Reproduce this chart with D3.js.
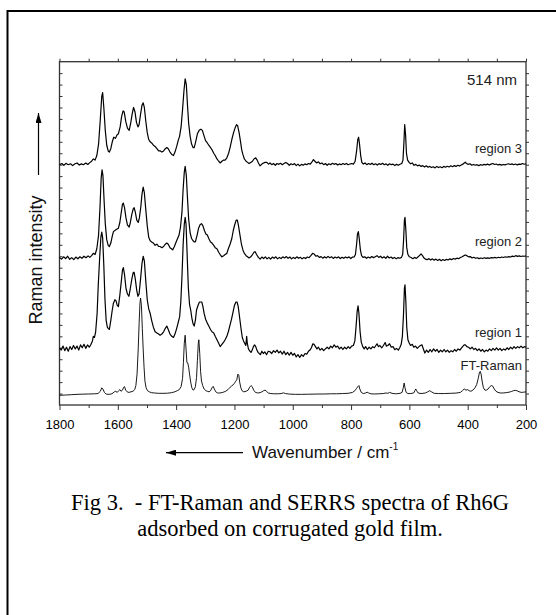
<!DOCTYPE html>
<html>
<head>
<meta charset="utf-8">
<script src="https://cdn.jsdelivr.net/npm/d3@7"></script>
<style>
  body { margin: 0; background: #fff; }
  svg { display: block; }
</style>
</head>
<body>
<svg width="556" height="615"></svg>
<script>
// x ticks (cm-1)
var majorTicks = [1800, 1600, 1400, 1200, 1000, 800, 600, 400, 200];
var minorTicks = [1700, 1500, 1300, 1100, 900, 700, 500, 300];

// names and vertical offsets (arbitrary intensity units) of the stacked spectra
var names = ["FT-Raman", "region 1", "region 2", "region 3"];
var offsets = [9, 50, 128.5, 210];

// [wavenumber, intensity above own baseline]
var ftRaman = [
[1800,-0.5],[1780,-0.3],[1760,0],[1740,0.3],[1720,0.5],[1700,0.6],[1680,0.8],[1668,1],[1660,3],[1655,6],[1651,5],[1646,2],[1640,0.5],[1630,0.3],[1620,0.8],[1612,2.5],[1607,3],[1602,2],[1597,3.5],[1593,4.5],[1589,3],[1584,4],[1580,6.5],[1577,7],[1573,4],[1568,2.5],[1562,2],[1555,2.5],[1548,3],[1542,4.5],[1538,8],[1534,18],[1530,40],[1527,62],[1524,80],[1522,84.5],[1519,78],[1516,58],[1513,40],[1510,24],[1507,12],[1503,6],[1498,3.5],[1492,2.5],[1485,1.8],[1475,1.5],[1460,1.2],[1445,1.2],[1430,1.3],[1415,1.8],[1405,2.5],[1396,3.5],[1389,4.5],[1383,7],[1378,14],[1375,28],[1372,45],[1369,52],[1366,40],[1363,28],[1360,27.7],[1357,24],[1354,18],[1350,11],[1346,6],[1342,4],[1338,4.5],[1334,7],[1330,15],[1327,30],[1324,45],[1322,48],[1319,36],[1316,20],[1313,12],[1309,8],[1304,5],[1298,3.5],[1293,3],[1287,2.5],[1282,3.5],[1277,6],[1273,7.3],[1269,5],[1264,2.5],[1258,1.5],[1250,1.5],[1240,2],[1230,3],[1222,4.5],[1215,6.5],[1210,7.5],[1205,8.5],[1200,10],[1196,11.6],[1192,13],[1188,18],[1185,17],[1182,11],[1178,6],[1174,3.5],[1168,2.5],[1160,3],[1153,4],[1148,6.5],[1143,8],[1139,7],[1134,4],[1128,2],[1120,1.5],[1112,1.8],[1106,2.5],[1100,3.5],[1095,4],[1090,3],[1084,1.5],[1075,1],[1065,0.8],[1050,0.8],[1040,1],[1032,1.6],[1025,1],[1010,0.5],[990,0.3],[970,0.3],[950,0.4],[930,0.5],[910,0.6],[890,0.6],[870,0.8],[850,0.8],[830,1],[810,1.2],[795,2],[787,3.5],[781,5.5],[777,7],[773,8],[770,5],[765,2],[758,1],[750,1.5],[745,2.2],[740,1.5],[732,0.8],[720,0.6],[705,0.8],[690,1],[680,1.5],[674,1.2],[668,2],[663,1.5],[656,1],[645,0.8],[632,1.2],[625,2],[621,6],[618,10.2],[615,6],[611,2],[605,1],[595,1],[585,1.5],[581,3.5],[578,5],[575,3.5],[570,1.5],[560,1],[545,1.5],[537,2.5],[530,3.5],[524,2.5],[515,1.2],[500,1],[480,1],[460,1.2],[440,1.4],[425,2],[418,3.5],[412,5],[406,4],[400,4.4],[395,3.5],[389,3],[382,4],[375,6],[369,9],[364,14],[360,19],[357,20.4],[354,18],[350,11],[346,6],[341,4],[336,4],[330,5],[324,7],[319,8],[314,7.5],[309,5],[303,3],[296,2],[288,1.5],[278,1.5],[268,1.8],[258,2.2],[250,2.8],[243,3.5],[237,3.8],[231,3.5],[224,2.6],[216,2],[208,2.2],[200,2.5]
];

var region1 = [
[1800,0],[1794,-2],[1788,1.5],[1782,-2.5],[1776,0.5],[1770,-3],[1764,1],[1758,-1.5],[1752,2],[1746,-1],[1740,1.5],[1734,-2],[1728,2.5],[1722,0],[1716,3],[1710,-0.5],[1704,2.5],[1698,0.5],[1692,3],[1687,6],[1684,10],[1680,9],[1676,14],[1671,30],[1667,55],[1662,80],[1658,97],[1655,101],[1652,96],[1648,72],[1644,42],[1640,24],[1636,18],[1633,17],[1629,16],[1624,24],[1619,33],[1615,39],[1610,42],[1606,41],[1602,37],[1598,36],[1593,46],[1588,58],[1584,68],[1581,70],[1577,64],[1572,52],[1567,47],[1562,45],[1557,52],[1552,60],[1547,66],[1544,66],[1540,60],[1535,50],[1531,45],[1527,47],[1522,60],[1517,74],[1513,80],[1509,76],[1504,58],[1499,42],[1494,34],[1489,30],[1484,24],[1478,18],[1472,14],[1466,13],[1460,12],[1455,11],[1449,12],[1443,14],[1437,17],[1432,19],[1427,16],[1421,12],[1415,10],[1409,9],[1404,12],[1398,17],[1393,22],[1388,27],[1384,40],[1380,62],[1376,90],[1372,108],[1369,114],[1366,108],[1362,80],[1358,52],[1354,38],[1350,33],[1346,26],[1342,21],[1338,19],[1334,24],[1330,33],[1325,37],[1320,40],[1316,40],[1312,40],[1308,36],[1304,30],[1299,25],[1294,22],[1288,19],[1282,16],[1277,14],[1271,13],[1266,10],[1260,7],[1254,4],[1249,1],[1243,3],[1237,5],[1232,7],[1226,10],[1221,14],[1215,20],[1210,25],[1205,31],[1200,37],[1195,40],[1191,40],[1187,36],[1182,26],[1177,16],[1173,9],[1169,6],[1165,4],[1161,2],[1158,10],[1156,4],[1152,-1],[1147,-3],[1143,-4],[1139,-2],[1135,1],[1131,2.5],[1127,1],[1123,-2],[1119,-4],[1115,-5],[1111,-6],[1106,-3],[1101,-5],[1096,-3.5],[1090,-6],[1084,-3],[1078,-3.5],[1072,-5],[1066,-2.5],[1060,-4],[1054,-2],[1048,-4.5],[1042,-3],[1036,-5.5],[1030,-3],[1024,-6],[1018,-4],[1012,-6.5],[1006,-4],[1000,-6.5],[994,-5],[988,-8],[982,-6],[976,-8.5],[970,-6],[964,-7.5],[958,-5],[952,-5.5],[946,-3],[941,-2],[936,0],[931,3.5],[927,3],[922,1],[917,-1],[912,0.5],[906,-2],[900,-0.5],[894,-2.5],[888,-1],[882,0.5],[876,-1],[870,1.5],[864,0],[858,2.5],[852,0.5],[846,1.5],[840,-1],[834,0.5],[828,-1.5],[822,0.5],[816,-1],[810,1],[804,-0.5],[798,1.5],[792,2],[787,6],[783,18],[779,32],[776,36.7],[773,30],[769,14],[765,5],[760,1],[755,-1],[750,1],[744,-1.5],[738,0.5],[732,-1],[726,1],[720,0],[715,2],[711,3.5],[706,1],[701,2],[695,0],[689,2],[683,4.6],[679,1.5],[674,2],[668,3.5],[662,0.5],[656,1],[650,-1.7],[644,-0.5],[638,-2],[633,0],[628,3],[624,10],[620,30],[617,52],[615,55],[612,40],[609,18],[605,7],[601,4.4],[596,2],[590,3],[585,0.5],[579,1.5],[573,-0.5],[567,1],[562,2],[557,2.6],[552,-1],[547,-4.6],[541,-2],[535,-4],[529,-1.5],[523,-3.5],[517,-1],[511,-3],[505,-1.5],[499,-4],[493,-2],[487,-3.5],[481,-1.5],[475,-3.5],[469,-2],[463,-4],[457,-2.5],[451,-3.5],[445,-1.5],[439,-3],[433,-1],[427,-2],[421,0],[416,1.5],[412,2.5],[408,2.6],[403,1],[397,0.5],[391,-1],[385,0.5],[379,-1.5],[373,-0.5],[367,-2.5],[361,-1],[355,-3],[349,-1.5],[343,-3.5],[337,-2],[331,-3],[325,-1],[319,-2.5],[313,-0.5],[307,-2],[301,0],[295,-2],[289,-0.5],[283,-2.5],[277,-1],[271,-2],[265,0],[259,-1.5],[253,0.5],[247,-1],[241,1],[235,-0.5],[229,1],[223,0],[217,1.5],[211,0],[205,1],[200,0.5]
];

var region2 = [
[1800,0.5],[1793,-1],[1786,1],[1779,-0.5],[1772,1.5],[1765,-1.2],[1758,0.3],[1751,-1.5],[1744,0.8],[1737,-0.7],[1730,1],[1723,-0.3],[1716,1.5],[1709,0.2],[1702,1.8],[1696,0.5],[1690,2],[1684,4],[1678,3],[1672,8],[1666,20],[1661,45],[1657,70],[1654,77],[1651,72],[1647,50],[1643,30],[1638,16],[1633,11],[1629,10],[1624,13],[1619,19],[1615,23],[1610,24],[1604,25],[1598,26],[1593,31],[1588,40],[1584,47],[1581,48],[1577,44],[1572,35],[1567,29],[1561,27],[1557,31],[1552,38],[1547,43],[1544,44],[1540,40],[1535,33],[1530,31],[1526,35],[1521,45],[1517,56],[1513,62],[1509,57],[1504,42],[1499,28],[1494,18],[1489,15],[1484,14],[1478,13],[1472,11],[1466,12],[1460,10],[1455,10],[1449,9],[1443,10],[1437,12],[1432,13],[1427,12],[1421,9],[1416,8],[1412,7],[1406,10],[1400,14],[1395,17],[1390,20],[1385,27],[1380,40],[1376,60],[1372,75],[1369,80],[1365,72],[1361,52],[1357,34],[1352,22],[1347,17],[1342,15],[1338,14],[1334,14],[1328,20],[1323,26],[1318,29],[1313,30],[1308,28],[1303,24],[1298,21],[1293,20],[1288,17],[1282,14],[1277,13],[1271,11],[1266,9],[1260,8],[1254,5],[1249,3],[1243,1],[1237,2],[1232,3],[1226,4],[1221,8],[1215,12],[1209,17],[1204,24],[1199,29],[1194,33],[1190,33],[1186,28],[1181,20],[1176,12],[1171,7],[1166,4],[1160,2],[1155,1],[1150,0],[1144,1],[1138,3],[1133,5],[1129,5.5],[1124,3],[1118,0.5],[1112,-1],[1106,0.8],[1100,-0.5],[1094,1],[1088,-0.8],[1082,0.5],[1076,-1],[1070,0.8],[1064,-0.3],[1058,1],[1052,-0.8],[1046,0.5],[1040,-0.5],[1034,1],[1028,0],[1022,1.2],[1016,-0.3],[1010,0.8],[1004,-0.8],[998,0.5],[992,-0.5],[986,1],[980,-0.3],[974,0.6],[968,-0.8],[962,0.4],[956,-0.5],[950,0.8],[944,0.2],[938,2],[932,4],[927,3.5],[921,1.5],[915,2],[909,0.5],[903,1.2],[897,-0.2],[891,1],[885,0],[879,1.4],[873,0.2],[867,1],[861,-0.4],[855,0.8],[849,0],[843,1],[837,-0.5],[831,0.6],[825,-0.3],[819,0.9],[813,0],[807,1],[801,-0.5],[795,0.8],[789,1],[785,3],[781,12],[778,21],[775,23],[772,17],[768,7],[764,2],[759,0.5],[753,1],[747,-0.3],[741,0.8],[735,0],[729,1.2],[723,0.3],[717,1],[711,2],[705,0.5],[699,1.5],[693,0],[687,1],[681,-0.3],[675,1.5],[669,0],[663,0.8],[657,-0.5],[651,0.5],[645,-0.8],[639,0.3],[633,-0.3],[627,0.5],[623,3],[620,15],[617,33],[615,35.5],[612,24],[609,9],[605,3],[600,1],[594,0.4],[588,-0.6],[582,0.5],[576,-0.4],[570,1],[564,2.5],[560,3.5],[555,2],[550,0],[545,-1],[539,-1.5],[533,-0.6],[527,-1.8],[521,-0.8],[515,-2],[509,-1],[503,-2.2],[497,-1.2],[491,-2.4],[485,-1.4],[479,-2.2],[473,-1.2],[467,-1.8],[461,-0.8],[455,-1.5],[449,-0.5],[443,-1],[437,-0.2],[431,-0.6],[425,0.4],[419,1],[413,2],[408,2.6],[403,2],[397,1],[391,1.2],[385,0],[379,0.6],[373,-0.3],[367,0.2],[361,-0.6],[355,0],[349,-0.5],[343,0.2],[337,-0.4],[331,0.1],[325,-0.3],[319,0.3],[313,0],[307,0.5],[301,0],[295,0.6],[289,0.2],[283,0.8],[277,0.4],[271,1],[265,0.6],[259,1.2],[253,0.8],[247,1.6],[241,1.2],[235,2],[229,1.4],[223,1.8],[217,1.3],[211,1.7],[205,1.5],[200,1.8]
];

var region3 = [
[1800,0],[1792,1],[1785,-0.5],[1778,1.2],[1770,0],[1762,0.8],[1755,-0.8],[1748,0.6],[1740,1.5],[1732,-0.3],[1725,0.7],[1718,0],[1710,1.4],[1703,0.2],[1696,1.8],[1690,3],[1684,5],[1678,4],[1672,8],[1666,18],[1660,40],[1655,60],[1652,63],[1648,50],[1643,30],[1638,17],[1633,12],[1629,11],[1624,14],[1619,20],[1614,24],[1608,23],[1603,26],[1598,27],[1592,33],[1587,42],[1582,47],[1578,46],[1573,38],[1567,32],[1561,30],[1556,36],[1551,44],[1546,50],[1541,46],[1536,37],[1531,33],[1527,35],[1522,44],[1517,52],[1513,54],[1509,50],[1504,38],[1499,28],[1494,22],[1489,20],[1484,19],[1478,17],[1472,16],[1466,14],[1460,12],[1454,12],[1449,11],[1443,12],[1437,14],[1432,15],[1427,14],[1421,11],[1415,9],[1409,8],[1404,11],[1398,16],[1393,21],[1388,25],[1383,33],[1378,48],[1373,65],[1369,75],[1365,70],[1361,52],[1357,36],[1352,25],[1347,18],[1342,15],[1338,15],[1333,20],[1327,27],[1321,30],[1315,31],[1310,30],[1304,25],[1299,21],[1293,19],[1288,17],[1282,15],[1277,13],[1271,10],[1266,8],[1260,5],[1254,3],[1249,1.5],[1243,3],[1237,4],[1232,4],[1226,6],[1220,10],[1215,15],[1209,22],[1203,28],[1198,32],[1193,35],[1189,34],[1184,28],[1179,20],[1175,13],[1171,9],[1166,5],[1160,3],[1155,2],[1150,1],[1144,2],[1138,3],[1133,5],[1127,6],[1122,4],[1117,1],[1112,-1],[1106,0.5],[1100,1.5],[1095,2],[1089,2],[1083,0.5],[1078,1.5],[1072,0],[1066,1],[1060,-0.5],[1054,1],[1048,0.3],[1042,1.2],[1036,0],[1030,1],[1024,2],[1018,1],[1012,-0.5],[1006,0.8],[1000,0],[994,1],[988,-0.8],[982,0.5],[976,-1],[970,0.3],[964,-0.5],[958,0.7],[952,0],[946,1],[940,0.5],[934,2.5],[929,4.5],[924,3],[918,1.5],[912,2.5],[906,0.8],[900,1.5],[894,0],[888,1],[882,-0.5],[876,0.8],[870,0],[864,1.2],[858,0.3],[852,1],[846,-0.3],[840,0.7],[834,0],[828,1],[822,0.2],[816,1.1],[810,0],[804,0.6],[798,1],[792,0.5],[786,3],[781,12],[777,22],[774,24],[771,18],[767,8],[763,2],[758,0.5],[752,1.5],[746,0],[740,1],[734,0.2],[728,1.3],[722,0],[716,0.8],[710,-0.3],[704,0.9],[698,0.2],[692,1.2],[686,0],[680,0.7],[674,-0.5],[668,0.8],[662,0],[656,0.5],[650,-0.8],[644,0.3],[638,-0.5],[632,0.4],[626,1],[622,4],[619,18],[616,35],[613,26],[610,10],[606,4],[601,2],[596,0.8],[590,1.5],[584,-0.5],[578,0.3],[572,-1],[566,-0.3],[560,-1.5],[554,-0.8],[548,-2],[542,-1],[536,-2.2],[530,-1.5],[524,-2.5],[518,-1.8],[512,-2.8],[506,-1.5],[500,-2.5],[494,-1.8],[488,-2.6],[482,-1.5],[476,-2.2],[470,-1.4],[464,-2],[458,-1],[452,-1.8],[446,-0.8],[440,-1.5],[434,-0.5],[428,-1.2],[422,-0.3],[416,0.5],[412,1.5],[408,2.2],[404,1],[398,0.3],[392,0.8],[386,-0.5],[380,0.2],[374,-0.5],[368,0],[362,-0.8],[356,0],[350,-0.5],[344,0.3],[338,-0.2],[332,0.5],[326,-0.3],[320,0.5],[314,1],[308,0.2],[302,0.6],[296,-0.2],[290,0.3],[284,-0.4],[278,0.2],[272,-0.2],[266,0.4],[260,0.8],[254,0.2],[248,0.7],[242,0],[236,0.6],[230,-0.2],[224,0.5],[218,0.3],[212,1],[206,0.4],[200,0.8]
];

var spectra = [ftRaman, region1, region2, region3];

var svg = d3.select("svg");
var sans = "Arial, 'Liberation Sans', Helvetica, sans-serif";
var serif = "'Times New Roman', 'Liberation Serif', Times, serif";

var plot = { left: 59.5, right: 526, top: 61.7, bottom: 405 };

var x = d3.scaleLinear().domain([1800, 200]).range([plot.left, plot.right]);
var y = d3.scaleLinear().domain([0, 300]).range([plot.bottom, plot.top]);

// page frame (only left and top edges fall inside the picture)
svg.append("path")
    .attr("d", "M7.5,620 V11 H560")
    .attr("fill", "none")
    .attr("stroke", "#000")
    .attr("stroke-width", 2);

// axes
function styleAxis(g) {
  g.select(".domain").remove();
  g.selectAll("line").attr("stroke", "#333").attr("stroke-width", 1);
}

svg.append("g")
    .attr("transform", "translate(0," + plot.bottom + ")")
    .call(d3.axisBottom(x).tickValues(majorTicks).tickSize(5).tickSizeOuter(0).tickFormat(d3.format("d")))
    .call(styleAxis)
    .call(function(g) {
      g.selectAll("text")
          .attr("y", 24).attr("dy", 0)
          .attr("font-family", sans).attr("font-size", 13).attr("fill", "#000");
    });

svg.append("g")
    .attr("transform", "translate(0," + plot.bottom + ")")
    .call(d3.axisBottom(x).tickValues(minorTicks).tickSize(3).tickFormat(""))
    .call(styleAxis);

svg.append("g")
    .attr("transform", "translate(0," + plot.top + ")")
    .call(d3.axisTop(x).tickValues(majorTicks.concat(minorTicks)).tickSize(3).tickFormat(""))
    .call(styleAxis);

svg.append("g")
    .attr("transform", "translate(" + plot.left + ",0)")
    .call(d3.axisLeft(y).tickValues(d3.range(10, 300, 10)).tickSize(-3).tickFormat(""))
    .call(styleAxis);

svg.append("g")
    .attr("transform", "translate(" + plot.right + ",0)")
    .call(d3.axisRight(y).tickValues(d3.range(10, 300, 10)).tickSize(3).tickFormat(""))
    .call(styleAxis);

svg.append("rect")
    .attr("x", plot.left).attr("y", plot.top)
    .attr("width", plot.right - plot.left).attr("height", plot.bottom - plot.top)
    .attr("fill", "none")
    .attr("stroke", "#333")
    .attr("stroke-width", 1.3);

// spectra
var line = d3.line()
    .x(function(d) { return x(d[0]); })
    .y(function(d) { return y(d[1] + d.off); });

svg.append("g").selectAll("path")
    .data(spectra)
    .enter().append("path")
    .attr("fill", "none")
    .attr("stroke", "#000")
    .attr("stroke-width", function(d, i) { return i === 0 ? 0.9 : 1.2; })
    .attr("stroke-linejoin", "round")
    .attr("d", function(d, i) {
      return line(d.map(function(p) { var q = [p[0], p[1]]; q.off = offsets[i]; return q; }));
    });

// series labels
var labelLift = [21.6, 9.4, 10.5, 10];
svg.append("g").selectAll("text")
    .data(names)
    .enter().append("text")
    .attr("x", 522)
    .attr("y", function(d, i) { return y(offsets[i] + labelLift[i]); })
    .attr("text-anchor", "end")
    .attr("font-family", sans)
    .attr("font-size", 13)
    .attr("fill", "#222")
    .text(function(d) { return d; });

svg.append("text")
    .attr("x", 517).attr("y", 84.5)
    .attr("text-anchor", "end")
    .attr("font-family", sans)
    .attr("font-size", 15)
    .attr("fill", "#222")
    .text("514 nm");

// arrow heads
svg.append("defs").append("marker")
    .attr("id", "head")
    .attr("viewBox", "0 0 10 6")
    .attr("refX", 10).attr("refY", 3)
    .attr("markerWidth", 10).attr("markerHeight", 6)
    .attr("markerUnits", "userSpaceOnUse")
    .attr("orient", "auto")
  .append("path")
    .attr("d", "M0,0 L10,3 L0,6 Z")
    .attr("fill", "#000");

// x label
var xl = svg.append("text")
    .attr("x", 252).attr("y", 457.5)
    .attr("font-family", sans)
    .attr("font-size", 17)
    .attr("fill", "#111");
xl.append("tspan").text("Wavenumber / cm");
xl.append("tspan").attr("font-size", 10).attr("dy", -8).text("-1");

svg.append("line")
    .attr("x1", 243).attr("y1", 452.7).attr("x2", 166).attr("y2", 452.7)
    .attr("stroke", "#000").attr("stroke-width", 1.2)
    .attr("marker-end", "url(#head)");

// y label
svg.append("text")
    .attr("transform", "translate(42,260) rotate(-90)")
    .attr("text-anchor", "middle")
    .attr("font-family", sans)
    .attr("font-size", 18)
    .attr("fill", "#111")
    .text("Raman intensity");

svg.append("line")
    .attr("x1", 38.5).attr("y1", 175).attr("x2", 38.5).attr("y2", 113)
    .attr("stroke", "#000").attr("stroke-width", 1.2)
    .attr("marker-end", "url(#head)");

// caption
var caption = ["Fig 3.  - FT-Raman and SERRS spectra of Rh6G", "adsorbed on corrugated gold film."];
svg.append("g").selectAll("text")
    .data(caption)
    .enter().append("text")
    .attr("x", 290)
    .attr("y", function(d, i) { return 510 + i * 25.5; })
    .attr("text-anchor", "middle")
    .attr("font-family", serif)
    .attr("font-size", 22.5)
    .attr("fill", "#000")
    .style("white-space", "pre")
    .text(function(d) { return d; });
</script>
</body>
</html>
